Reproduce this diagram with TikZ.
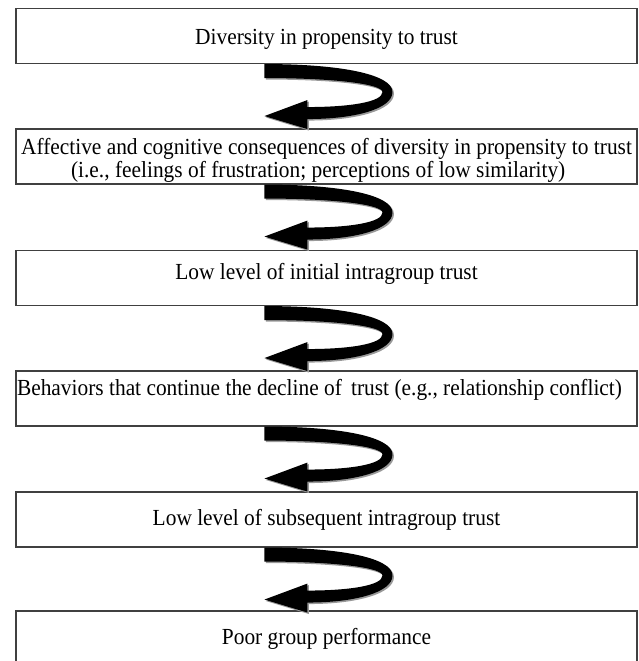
\documentclass[tikz,border=0pt]{standalone}
\usepackage{fontspec}
\setmainfont{Liberation Serif}[FakeStretch=0.93]
\usetikzlibrary{calc}
\tikzset{
  box/.style={draw=black!75, line width=1.1pt, minimum width=621pt, minimum height=55pt,
    inner sep=0pt, font=\fontsize{23}{23}\selectfont},
  % curved block arrow, origin = top left of its tail
  turnarrow/.pic={
    \foreach \c/\d in {black!40/1.5, black/0}
      \fill[\c, shift={(\d,-\d)}] (0,0) .. controls (75,0) and (128,-10) .. (128,-28)
        .. controls (128,-45) and (90,-55) .. (43,-55) -- (43,-65) -- (0,-52) -- (43,-36) -- (43,-43)
        .. controls (85,-43) and (118,-38) .. (118,-28) .. controls (118,-20) and (70,-14) .. (0,-14) -- cycle;
  }
}
\begin{document}
\begin{tikzpicture}[x=1pt,y=1pt]
\useasboundingbox (0,0) rectangle (639,-661);
\node[box, text height=22pt] (b1) at (326.5,-36) {Diversity in propensity to trust};
\node[box, align=left, text height=46pt] (b2) at (326.5,-156.5) {Affective and cognitive consequences of diversity in propensity to trust\\\hspace*{50pt}(i.e., feelings of frustration; perceptions of low similarity)};
\node[box, text depth=13pt] (b3) at (326.5,-278) {Low level of initial intragroup trust};
\node[box, text depth=22pt] (b4) at (326.5,-398.5) {Behaviors that continue the decline of\, trust (e.g., relationship conflict)\hspace*{14pt}};
\node[box] (b5) at (326.5,-519.5) {Low level of subsequent intragroup trust};
\node[box] (b6) at (326.5,-638.5) {Poor group performance};
\foreach \u in {1,...,5}
  \pic at ($(b\u.south west)+(249,0)$) {turnarrow};
\end{tikzpicture}
\end{document}
